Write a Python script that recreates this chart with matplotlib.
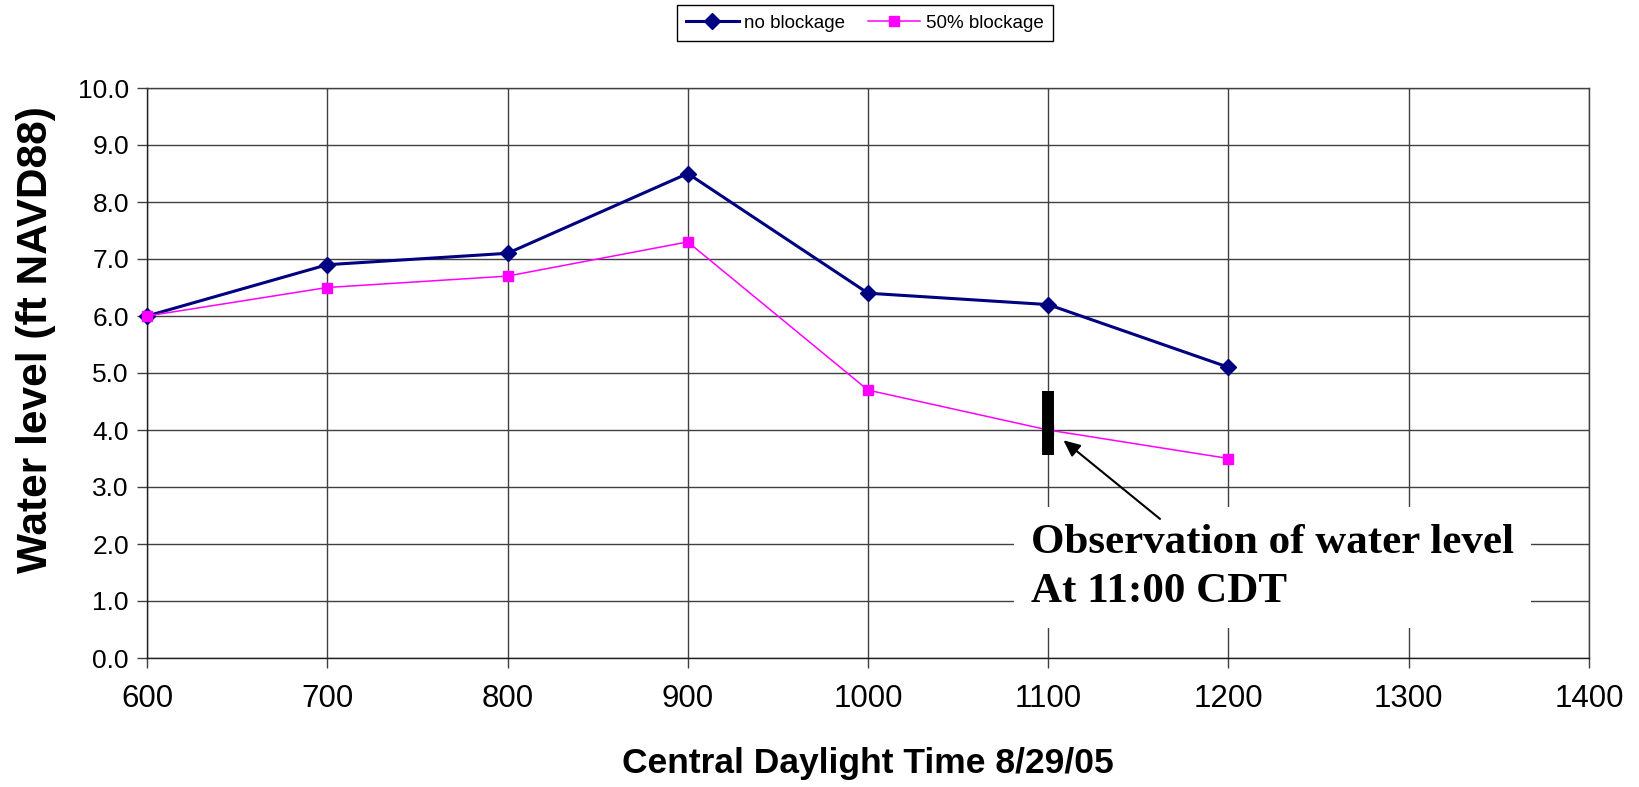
import matplotlib
matplotlib.use("Agg")
import matplotlib.pyplot as plt

# ---- data ----
times = [600, 700, 800, 900, 1000, 1100, 1200]
no_blockage = [6.0, 6.9, 7.1, 8.5, 6.4, 6.2, 5.1]
blockage_50 = [6.0, 6.5, 6.7, 7.3, 4.7, 4.0, 3.5]
series_labels = ["no blockage", "50% blockage"]
x_ticks = [600, 700, 800, 900, 1000, 1100, 1200, 1300, 1400]
y_ticks = [0.0, 1.0, 2.0, 3.0, 4.0, 5.0, 6.0, 7.0, 8.0, 9.0, 10.0]
obs_time = 1100
obs_low, obs_high = 3.57, 4.68
annot_text = "Observation of water level\nAt 11:00 CDT"
xlabel = "Central Daylight Time 8/29/05"
ylabel = "Water level (ft NAVD88)"

plt.rcParams['font.family'] = ['Liberation Sans', 'DejaVu Sans']

fig = plt.figure(figsize=(16.4, 7.87), dpi=100)
ax = fig.add_axes([147 / 1640, 1 - 658 / 787, (1589 - 147) / 1640, (658 - 88) / 787])

ax.set_xlim(600, 1400)
ax.set_ylim(0, 10)
ax.set_xticks(x_ticks)
ax.set_yticks(y_ticks)
ax.set_xticklabels([str(t) for t in x_ticks], fontsize=22.5)
ax.set_yticklabels([f"{v:.1f}" for v in y_ticks], fontsize=19)
ax.tick_params(axis='both', direction='out', length=7, width=1, color='#404040')
ax.tick_params(axis='x', pad=12)
ax.tick_params(axis='y', pad=6)
ax.grid(True, color='#404040', linewidth=1.0)
ax.set_axisbelow(True)
for s in ['top', 'right']:
    ax.spines[s].set_color('#404040')
    ax.spines[s].set_linewidth(1.0)
for s in ['left', 'bottom']:
    ax.spines[s].set_color('#202020')
    ax.spines[s].set_linewidth(1.0)

l1, = ax.plot(times, no_blockage, color='#000080', linewidth=2.2, marker='D',
              markersize=8.5, label=series_labels[0], zorder=4, clip_on=False)
l2, = ax.plot(times, blockage_50, color='#FF00FF', linewidth=1.1, marker='s',
              markersize=6.5, label=series_labels[1], zorder=4, clip_on=False)

# observation bar
ax.vlines(obs_time, obs_low, obs_high, color='black', linewidth=8.6, zorder=5, capstyle='butt')

# annotation text with white box (va='baseline' anchors the last line)
ax.text(1090.5, 0.98, annot_text, fontsize=31, fontweight='bold',
        family=['Liberation Serif', 'DejaVu Serif'], ha='left', va='baseline',
        linespacing=1.39, zorder=6,
        bbox=dict(boxstyle='square,pad=0.4', facecolor='white', edgecolor='none'))
ax.annotate("", xy=(1108.4, 3.82), xytext=(1162, 2.44),
            arrowprops=dict(arrowstyle='-|>,head_length=1.0,head_width=0.45',
                            color='black', linewidth=1.5, shrinkA=0, shrinkB=0),
            zorder=7)

ax.set_xlabel(xlabel, fontsize=25.5, fontweight='bold', labelpad=23.5)
ax.set_ylabel(ylabel, fontsize=30.5, fontweight='bold')
ax.yaxis.set_label_coords((36 - 147) / 1442, (658 - 340) / 570)
ax.yaxis.label.set_verticalalignment('center')

leg = fig.legend(handles=[l1, l2], loc='upper center', bbox_to_anchor=(865 / 1640, 1 - 5 / 787),
                 ncol=2, fontsize=13.5, frameon=True, fancybox=False, framealpha=1,
                 edgecolor='black', handlelength=2.8, columnspacing=1.2,
                 handletextpad=0.3, borderpad=0.5, borderaxespad=0)
leg.get_frame().set_linewidth(1.0)

fig.savefig("out.png", dpi=100)
